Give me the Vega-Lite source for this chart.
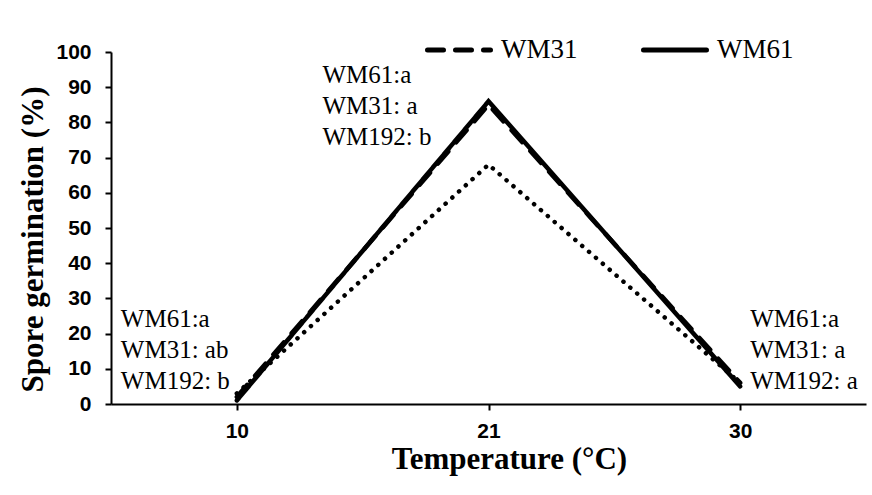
{
  "$schema": "https://vega.github.io/schema/vega-lite/v6.json",
  "autosize": {"type": "none"},
  "padding": {"left": 111, "top": 52, "right": 6, "bottom": 91},
  "width": 755,
  "height": 352,
  "background": "white",
  "config": {"view": {"stroke": null}, "font": "Liberation Sans"},
  "datasets": {
    "series": [
      {"temp": "10", "isolate": "WM192", "germ": 3},
      {"temp": "21", "isolate": "WM192", "germ": 68},
      {"temp": "30", "isolate": "WM192", "germ": 6},
      {"temp": "10", "isolate": "WM31", "germ": 2},
      {"temp": "21", "isolate": "WM31", "germ": 85},
      {"temp": "30", "isolate": "WM31", "germ": 6},
      {"temp": "10", "isolate": "WM61", "germ": 1},
      {"temp": "21", "isolate": "WM61", "germ": 86},
      {"temp": "30", "isolate": "WM61", "germ": 5}
    ],
    "notes": [
      {"temp": "10", "pos": 21.9, "block": "left", "text": "WM61:a\nWM31: ab\nWM192: b"},
      {"temp": "21", "pos": 91.2, "block": "peak", "text": "WM61:a\nWM31: a\nWM192: b"},
      {"temp": "30", "pos": 21.9, "block": "right", "text": "WM61:a\nWM31: a\nWM192: a"}
    ]
  },
  "encoding": {
    "x": {
      "field": "temp", "type": "ordinal",
      "scale": {"type": "point", "domain": ["10", "21", "30"], "padding": 0.5},
      "axis": {
        "labelAngle": 0, "labelFont": "Liberation Sans", "labelFontWeight": "bold", "labelFontSize": 21,
        "labelColor": "black", "labelPadding": 10, "tickSize": 6, "tickWidth": 2, "tickColor": "black",
        "domainWidth": 2, "domainColor": "black", "grid": false,
        "title": "Temperature (°C)", "titleFont": "Liberation Serif", "titleFontSize": 31, "titleFontWeight": "bold",
        "titleColor": "black", "titleX": 398, "titleY": 64, "titleAlign": "center", "titleBaseline": "alphabetic"
      }
    },
    "y": {
      "field": "germ", "type": "quantitative",
      "scale": {"domain": [0, 100], "nice": false},
      "axis": {
        "values": [0, 10, 20, 30, 40, 50, 60, 70, 80, 90, 100],
        "labelFont": "Liberation Sans", "labelFontWeight": "bold", "labelFontSize": 21, "labelColor": "black",
        "labelPadding": 14, "tickSize": 6, "tickWidth": 2, "tickColor": "black",
        "domainWidth": 2, "domainColor": "black", "grid": false,
        "title": "Spore germination (%)", "titleFont": "Liberation Serif", "titleFontSize": 31, "titleFontWeight": "bold",
        "titleColor": "black", "titleAngle": -90, "titleX": -69, "titleY": 187, "titleAlign": "center", "titleBaseline": "alphabetic"
      }
    }
  },
  "layer": [
    {
      "data": {"name": "series"},
      "mark": {"type": "line", "stroke": "black", "strokeWidth": 4.5, "strokeCap": "round", "strokeJoin": "miter"},
      "encoding": {
        "strokeDash": {
          "field": "isolate", "type": "nominal",
          "scale": {"domain": ["WM31", "WM61", "WM192"], "range": [[16, 12], [1, 0], [0.1, 9]]},
          "legend": {
            "values": ["WM31", "WM61"], "title": null, "orient": "none", "direction": "horizontal",
            "legendX": 314, "legendY": -36,
            "symbolType": "stroke", "symbolSize": 3969, "symbolStrokeWidth": 5, "symbolStrokeColor": "black",
            "labelFont": "Liberation Serif", "labelFontSize": 27, "labelColor": "black", "labelOffset": 8,
            "columnPadding": 55, "labelLimit": 200,
            "encode": {"symbols": {"update": {"strokeCap": {"value": "round"}}}}
          }
        }
      }
    },
    {
      "data": {"name": "notes"},
      "transform": [{"filter": "datum.block == 'left'"}],
      "mark": {"type": "text", "font": "Liberation Serif", "fontSize": 25, "align": "left", "baseline": "alphabetic", "lineBreak": "\n", "lineHeight": 31, "dx": -116, "color": "black"},
      "encoding": {"y": {"field": "pos", "type": "quantitative"}, "text": {"field": "text"}}
    },
    {
      "data": {"name": "notes"},
      "transform": [{"filter": "datum.block == 'peak'"}],
      "mark": {"type": "text", "font": "Liberation Serif", "fontSize": 25, "align": "left", "baseline": "alphabetic", "lineBreak": "\n", "lineHeight": 31, "dx": -166, "color": "black"},
      "encoding": {"y": {"field": "pos", "type": "quantitative"}, "text": {"field": "text"}}
    },
    {
      "data": {"name": "notes"},
      "transform": [{"filter": "datum.block == 'right'"}],
      "mark": {"type": "text", "font": "Liberation Serif", "fontSize": 25, "align": "left", "baseline": "alphabetic", "lineBreak": "\n", "lineHeight": 31, "dx": 10, "color": "black"},
      "encoding": {"y": {"field": "pos", "type": "quantitative"}, "text": {"field": "text"}}
    }
  ]
}
